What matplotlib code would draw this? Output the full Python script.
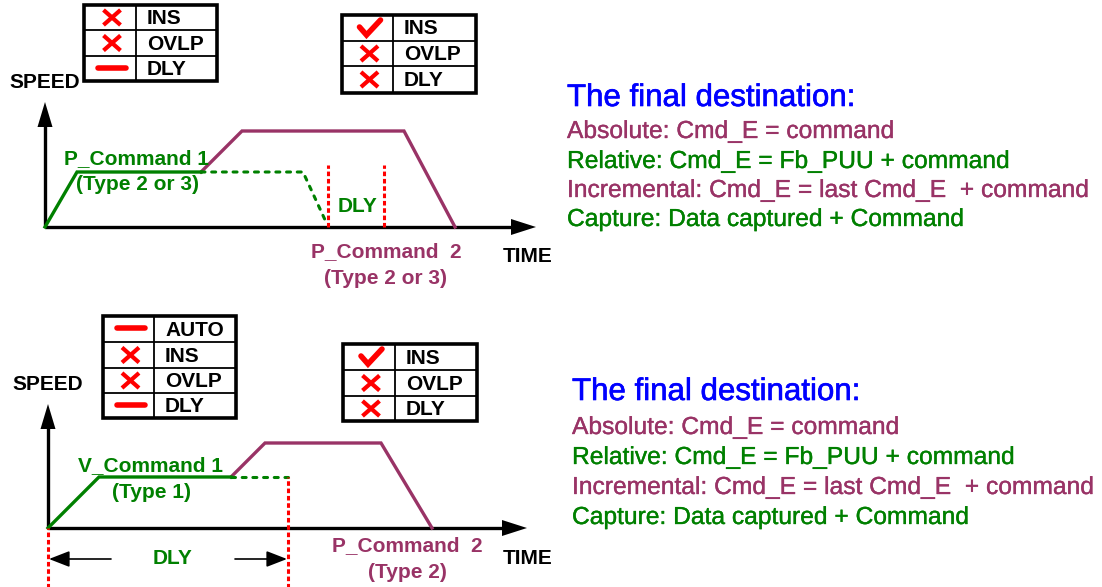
import matplotlib
matplotlib.use("Agg")
import matplotlib.pyplot as plt
from matplotlib.patches import Rectangle, Polygon
import matplotlib.patheffects as pe

W, H = 1102, 587
PURPLE = "#993366"
GREEN = "#008000"
RED = "#FF0000"
BLUE = "#0000FF"
FONT = "Liberation Sans"
FS = 15

# ---------------- data ----------------
# top diagram (time, speed) profiles
top_p1_t = [0, 32, 156]
top_p1_s = [0, 55, 55]
top_p1_dash_t = [156, 258, 281]
top_p1_dash_s = [55, 55, 5]
top_p2_t = [156, 197, 359, 410]
top_p2_s = [55, 96, 96, 0]
top_dly_t = [283, 339]
top_dly_top = 62

# bottom diagram
bot_v1_t = [0, 51, 183]
bot_v1_s = [0, 51, 51]
bot_v1_dash_t = [183, 240]
bot_v1_dash_s = [51, 51]
bot_p2_t = [183, 217, 333, 384]
bot_p2_s = [51, 85, 85, 0]
bot_dly_t = [0, 240]
bot_dly_top = [0, 51]
bot_dly_bottom = -62

# tables
tbl_tl_marks = ["x", "x", "-"]
tbl_tl_labels = ["INS", "OVLP", "DLY"]
tbl_tr_marks = ["v", "x", "x"]
tbl_tr_labels = ["INS", "OVLP", "DLY"]
tbl_bl_marks = ["-", "x", "x", "-"]
tbl_bl_labels = ["AUTO", "INS", "OVLP", "DLY"]
tbl_br_marks = ["v", "x", "x"]
tbl_br_labels = ["INS", "OVLP", "DLY"]

dest_title = "The final destination:"
dest_lines = ["Absolute: Cmd_E = command",
              "Relative: Cmd_E = Fb_PUU + command",
              "Incremental: Cmd_E = last Cmd_E  + command",
              "Capture: Data captured + Command"]
dest_colors = [PURPLE, GREEN, PURPLE, GREEN]

# ---------------- figure ----------------
fig = plt.figure(figsize=(11.02, 5.87), dpi=100)
ov = fig.add_axes([0, 0, 1, 1])
ov.set_xlim(0, W)
ov.set_ylim(H, 0)
ov.axis("off")


def diagram_axes(ox, oy, left, right, top, bottom):
    ax = fig.add_axes([left / W, 1 - bottom / H, (right - left) / W, (bottom - top) / H])
    ax.set_xlim(left - ox, right - ox)
    ax.set_ylim(oy - bottom, oy - top)
    ax.axis("off")
    return ax


def draw_axes_arrows(ax, ytip, xtip):
    ax.plot([0, 0], [0, ytip - 20], color="black", lw=2.4, solid_capstyle="butt")
    ax.plot([0, xtip - 20], [0, 0], color="black", lw=2.4, solid_capstyle="butt")
    ax.add_patch(Polygon([[0, ytip], [-7.5, ytip - 25], [7.5, ytip - 25]],
                         closed=True, color="black", lw=0))
    ax.add_patch(Polygon([[xtip, 0], [xtip - 25, 8], [xtip - 25, -8]],
                         closed=True, color="black", lw=0))


def btext(ax, x, y, s, color, ha="center"):
    ax.text(x, y, s, color=color, fontsize=FS, fontweight="bold", family=FONT,
            ha=ha, va="center")


def red_dash(ax, xs, ys):
    ax.plot(xs, ys, color=RED, lw=2.2, dashes=(1.5, 0.9), dash_capstyle="butt", zorder=3)


def green_dash(ax, xs, ys):
    ax.plot(xs, ys, color=GREEN, lw=2.2, dashes=(1.3, 2.2), dash_capstyle="round")


def draw_table(x0, x1, xc, rows, marks, labels):
    n = len(rows) - 1
    for i in range(1, n):
        ov.plot([x0, x1], [rows[i], rows[i]], color="black", lw=1.3)
    ov.plot([xc, xc], [rows[0], rows[-1]], color="black", lw=1.3)
    ov.add_patch(Rectangle((x0, rows[0]), x1 - x0, rows[-1] - rows[0],
                           fill=False, ec="black", lw=2.6))
    sx = (x0 + xc) / 2 + 2
    for i in range(n):
        cy = (rows[i] + rows[i + 1]) / 2
        m = marks[i]
        if m == "x":
            ov.plot([sx - 8.5, sx + 8.5], [cy - 7.5, cy + 7.5], color=RED, lw=3.0, solid_capstyle="butt")
            ov.plot([sx - 8.5, sx + 8.5], [cy + 7.5, cy - 7.5], color=RED, lw=3.0, solid_capstyle="butt")
        elif m == "-":
            ov.plot([sx - 14, sx + 14], [cy - 1, cy - 1], color=RED, lw=4.0, solid_capstyle="round")
        elif m == "v":
            ov.plot([sx - 10, sx - 3, sx + 11], [cy - 1, cy + 7, cy - 8], color=RED, lw=4.0,
                    solid_capstyle="round", solid_joinstyle="miter")
        ov.text(xc + 11, cy + 1, labels[i], fontsize=FS, fontweight="bold", family=FONT,
                color="black", ha="left", va="center")


# ---------------- top diagram ----------------
axt = diagram_axes(45, 227, 0, 560, 95, 300)
draw_axes_arrows(axt, 125, 491)
axt.plot(top_p2_t, top_p2_s, color=PURPLE, lw=2.4, solid_joinstyle="miter")
green_dash(axt, top_p1_dash_t, top_p1_dash_s)
axt.plot(top_p1_t, top_p1_s, color=GREEN, lw=2.4, solid_joinstyle="miter")
for t in top_dly_t:
    red_dash(axt, [t, t], [0, top_dly_top])
btext(axt, 91, 68, "P_Command 1", GREEN)
btext(axt, 93, 43, "(Type 2 or 3)", GREEN)
btext(axt, 313, 20, "DLY", GREEN)
btext(axt, 341, -25, "P_Command  2", PURPLE)
btext(axt, 341, -51, "(Type 2 or 3)", PURPLE)

# ---------------- bottom diagram ----------------
axb = diagram_axes(48, 528, 0, 560, 395, 587)
draw_axes_arrows(axb, 124, 479)
axb.plot(bot_p2_t, bot_p2_s, color=PURPLE, lw=2.4, solid_joinstyle="miter")
green_dash(axb, bot_v1_dash_t, bot_v1_dash_s)
axb.plot(bot_v1_t, bot_v1_s, color=GREEN, lw=2.4, solid_joinstyle="miter")
for t, top in zip(bot_dly_t, bot_dly_top):
    red_dash(axb, [t, t], [bot_dly_bottom, top])
axb.annotate("", xy=(1, -31), xytext=(63, -31),
             arrowprops=dict(arrowstyle="-|>,head_length=0.9,head_width=0.35", color="black",
                             lw=1.2, shrinkA=0, shrinkB=0, mutation_scale=14))
axb.annotate("", xy=(239, -31), xytext=(187, -31),
             arrowprops=dict(arrowstyle="-|>,head_length=0.9,head_width=0.35", color="black",
                             lw=1.2, shrinkA=0, shrinkB=0, mutation_scale=14))
btext(axb, 125, -31, "DLY", GREEN)
btext(axb, 102, 62, "V_Command 1", GREEN)
btext(axb, 104, 36, "(Type 1)", GREEN)
btext(axb, 359, -18, "P_Command  2", PURPLE)
btext(axb, 359, -44, "(Type 2)", PURPLE)

# ---------------- axis labels ----------------
for (x, y, s) in [(9, 83, "SPEED"), (503, 257, "TIME"), (12, 385, "SPEED"), (503, 558, "TIME")]:
    btext(ov, x, y, s, "black", ha="left")

# ---------------- tables ----------------
draw_table(84, 217, 136, [5, 30, 56, 81], tbl_tl_marks, tbl_tl_labels)
draw_table(342, 476, 393, [15, 41, 66, 93], tbl_tr_marks, tbl_tr_labels)
draw_table(103, 236, 154, [316, 342, 368, 393, 418], tbl_bl_marks, tbl_bl_labels)
draw_table(343, 477, 395, [344, 370, 396, 421], tbl_br_marks, tbl_br_labels)

# ---------------- destination text ----------------
for (x, ytitle, ylines) in [(567, 98, [131, 161, 190, 219]), (572, 392, [427, 457, 487, 517])]:
    ov.text(x, ytitle, dest_title, color=BLUE, fontsize=22.5, family=FONT, ha="left", va="center",
            path_effects=[pe.withStroke(linewidth=0.45, foreground=BLUE)])
    for y, line, c in zip(ylines, dest_lines, dest_colors):
        ov.text(x, y, line, color=c, fontsize=17.7, family=FONT, ha="left", va="center",
                path_effects=[pe.withStroke(linewidth=0.25, foreground=c)])

fig.savefig("out.png", dpi=100)
